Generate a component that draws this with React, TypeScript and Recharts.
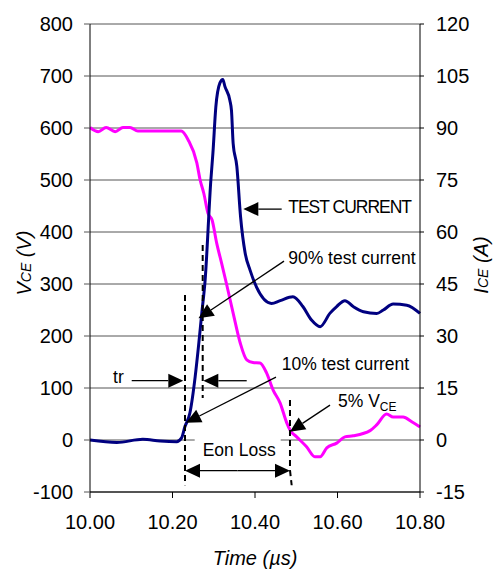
import React from 'react';
import {
  LineChart,
  Line,
  XAxis,
  YAxis,
  CartesianGrid,
  ReferenceLine,
  ReferenceDot,
} from 'recharts';

const FONT = "Arial, 'Liberation Sans', sans-serif";

// collector-emitter voltage (left axis)
const vceTime = [
  10.0, 10.02, 10.039, 10.061, 10.08, 10.097, 10.116, 10.221, 10.238, 10.259, 10.267,
  10.276, 10.286, 10.296, 10.307, 10.319, 10.331, 10.347, 10.364, 10.38, 10.395, 10.412,
  10.428, 10.444, 10.461, 10.477, 10.485, 10.501, 10.525, 10.545, 10.558, 10.574, 10.598,
  10.618, 10.638, 10.679, 10.695, 10.719, 10.735, 10.759, 10.78, 10.8,
];
const vceVolts = [
  601, 593, 601, 593, 601, 601, 594, 594, 577, 533, 500,
  474, 436, 423, 379, 340, 300, 244, 187, 154, 149, 148,
  129, 96, 71, 33, 19, 6, -13, -32, -32, -15, -6,
  6, 8, 18, 29, 50, 44, 44, 35, 25,
];

// collector current (right axis)
const iceTime = [
  10.0, 10.065, 10.128, 10.17, 10.21, 10.222, 10.23, 10.242, 10.255, 10.263, 10.271,
  10.279, 10.293, 10.298, 10.305, 10.315, 10.322, 10.327, 10.339, 10.343, 10.347, 10.356,
  10.365, 10.376, 10.388, 10.404, 10.44, 10.461, 10.492, 10.516, 10.537, 10.558, 10.582,
  10.598, 10.618, 10.638, 10.663, 10.695, 10.711, 10.735, 10.768, 10.8,
];
const iceAmps = [
  0, -0.7, 0.2, -0.3, -0.5, 0.6, 3.8, 7.7, 18.3, 27, 36.6,
  46, 75, 82.8, 96, 103, 104, 102, 98, 95, 85.6, 78.9,
  64.4, 54, 49, 44, 39.4, 40.2, 41.3, 38.5, 34.6, 32.7, 36.6,
  38.5, 40.2, 38.5, 37, 36.5, 37.5, 39.2, 38.9, 36.5,
];

const timeTicks = [10.0, 10.2, 10.4, 10.6, 10.8];
const voltTicks = [-100, 0, 100, 200, 300, 400, 500, 600, 700, 800];
const ampTicks = [-15, 0, 15, 30, 45, 60, 75, 90, 105, 120];

// dashed guides, [time, volts] pairs
const guides: [number, number][][] = [
  [[10.2303, 279], [10.2303, -87]],
  [[10.2732, 375], [10.2732, 81]],
  [[10.4848, 77], [10.4848, -58]],
  [[10.4848, -58], [10.4889, -87]],
];

// arrows, tail -> head
const arrows: [number, number][][] = [
  [[10.4647, 444], [10.3717, 444]],
  [[10.4703, 344], [10.263, 234]],
  [[10.4509, 121], [10.2327, 33]],
  [[10.1011, 114], [10.2262, 114]],
  [[10.3799, 114], [10.2747, 114]],
  [[10.3576, -59], [10.2303, -59]],
  [[10.3576, -59], [10.4848, -59]],
  [[10.5818, 67], [10.4848, 16]],
];

const notes = [
  { t: 10.4806, v: 436, text: 'TEST CURRENT', tight: true },
  { t: 10.4806, v: 339, text: '90% test current' },
  { t: 10.4647, v: 134, text: '10% test current' },
  { t: 10.0558, v: 110, text: 'tr' },
  { t: 10.2732, v: -31, text: 'Eon Loss', boxed: true },
  { t: 10.6012, v: 63, text: '5% V', sub: 'CE' },
];

const vceData = vceTime.map((t, i) => ({ t, v: vceVolts[i] }));
const iceData = iceTime.map((t, i) => ({ t, a: iceAmps[i] }));

const dashedShape = (p: any) => (
  <line x1={p.x1} y1={p.y1} x2={p.x2} y2={p.y2} stroke="#000" strokeWidth={2} strokeDasharray="6 4" />
);

const arrowShape = (p: any) => {
  const { x1, y1, x2, y2 } = p;
  const ang = Math.atan2(y2 - y1, x2 - x1);
  const c = Math.cos(ang);
  const s = Math.sin(ang);
  const len = 15;
  const half = 7;
  const bx = x2 - len * c;
  const by = y2 - len * s;
  const pts = `${x2},${y2} ${bx - half * s},${by + half * c} ${bx + half * s},${by - half * c}`;
  return (
    <g>
      <line x1={x1} y1={y1} x2={bx} y2={by} stroke="#000" strokeWidth={1.3} />
      <polygon points={pts} fill="#000" />
    </g>
  );
};

const noteShape = (n: (typeof notes)[number]) => (p: any) => (
  <g>
    {n.boxed && <rect x={p.cx - 8} y={p.cy - 19} width={86} height={24} fill="#fff" />}
    <text
      x={p.cx}
      y={p.cy}
      fontSize={17.5}
      fontFamily={FONT}
      fill="#000"
      letterSpacing={n.tight ? -1 : 0}
    >
      {n.text}
      {n.sub && (
        <tspan fontSize={12} dy={4}>
          {n.sub}
        </tspan>
      )}
    </text>
  </g>
);

const leftTitle = ({ viewBox }: any) => {
  const x = viewBox.x + 1;
  const y = viewBox.y + viewBox.height / 2 + 5;
  return (
    <text x={x} y={y} transform={`rotate(-90 ${x} ${y})`} textAnchor="middle" fontStyle="italic" fontSize={20} fontFamily={FONT} fill="#000">
      V<tspan fontSize={14}>CE</tspan> (V)
    </text>
  );
};

const rightTitle = ({ viewBox }: any) => {
  const x = viewBox.x + 68;
  const y = viewBox.y + viewBox.height / 2 + 7;
  return (
    <text x={x} y={y} transform={`rotate(-90 ${x} ${y})`} textAnchor="middle" fontStyle="italic" fontSize={20} fontFamily={FONT} fill="#000">
      I<tspan fontSize={14}>CE</tspan> (A)
    </text>
  );
};

const bottomTitle = ({ viewBox }: any) => (
  <text x={viewBox.x + viewBox.width / 2} y={viewBox.y + 73} textAnchor="middle" fontStyle="italic" fontSize={20} fontFamily={FONT} fill="#000">
    Time (µs)
  </text>
);

const tickStyle = { fill: '#000', fontSize: 20, fontFamily: FONT };

export default function App() {
  return (
    <div style={{ position: 'absolute', left: 0, top: 0, background: '#fff' }}>
      <LineChart width={493} height={572} margin={{ top: 24, right: 13, left: 30, bottom: 40 }}>
        <CartesianGrid yAxisId="left" vertical={false} stroke="#555" />
        <XAxis
          dataKey="t"
          type="number"
          domain={[10, 10.8]}
          ticks={timeTicks}
          tickFormatter={(t: number) => t.toFixed(2)}
          height={40}
          tickSize={6}
          tickMargin={17}
          tick={tickStyle}
          stroke="#000"
          label={bottomTitle}
        />
        <YAxis
          yAxisId="left"
          orientation="left"
          domain={[-100, 800]}
          ticks={voltTicks}
          width={60}
          tickSize={6}
          tickMargin={11}
          tick={tickStyle}
          tickLine={{ stroke: '#555' }}
          axisLine={{ stroke: '#000' }}
          label={leftTitle}
        />
        <YAxis
          yAxisId="right"
          orientation="right"
          domain={[-15, 120]}
          ticks={ampTicks}
          width={60}
          tickSize={4}
          tickMargin={12}
          tick={tickStyle}
          tickLine={{ stroke: '#000' }}
          axisLine={{ stroke: '#000' }}
          label={rightTitle}
        />
        <Line
          yAxisId="left"
          data={vceData}
          dataKey="v"
          type="monotone"
          stroke="#ff00ff"
          strokeWidth={3}
          dot={false}
          isAnimationActive={false}
        />
        <Line
          yAxisId="right"
          data={iceData}
          dataKey="a"
          type="monotone"
          stroke="#000080"
          strokeWidth={3}
          dot={false}
          isAnimationActive={false}
        />
        {guides.map((g, i) => (
          <ReferenceLine
            key={`g${i}`}
            yAxisId="left"
            segment={[{ x: g[0][0], y: g[0][1] }, { x: g[1][0], y: g[1][1] }]}
            shape={dashedShape}
          />
        ))}
        {arrows.map((a, i) => (
          <ReferenceLine
            key={`a${i}`}
            yAxisId="left"
            segment={[{ x: a[0][0], y: a[0][1] }, { x: a[1][0], y: a[1][1] }]}
            shape={arrowShape}
          />
        ))}
        {notes.map((n, i) => (
          <ReferenceDot key={`n${i}`} yAxisId="left" x={n.t} y={n.v} r={0} shape={noteShape(n)} />
        ))}
      </LineChart>
    </div>
  );
}
